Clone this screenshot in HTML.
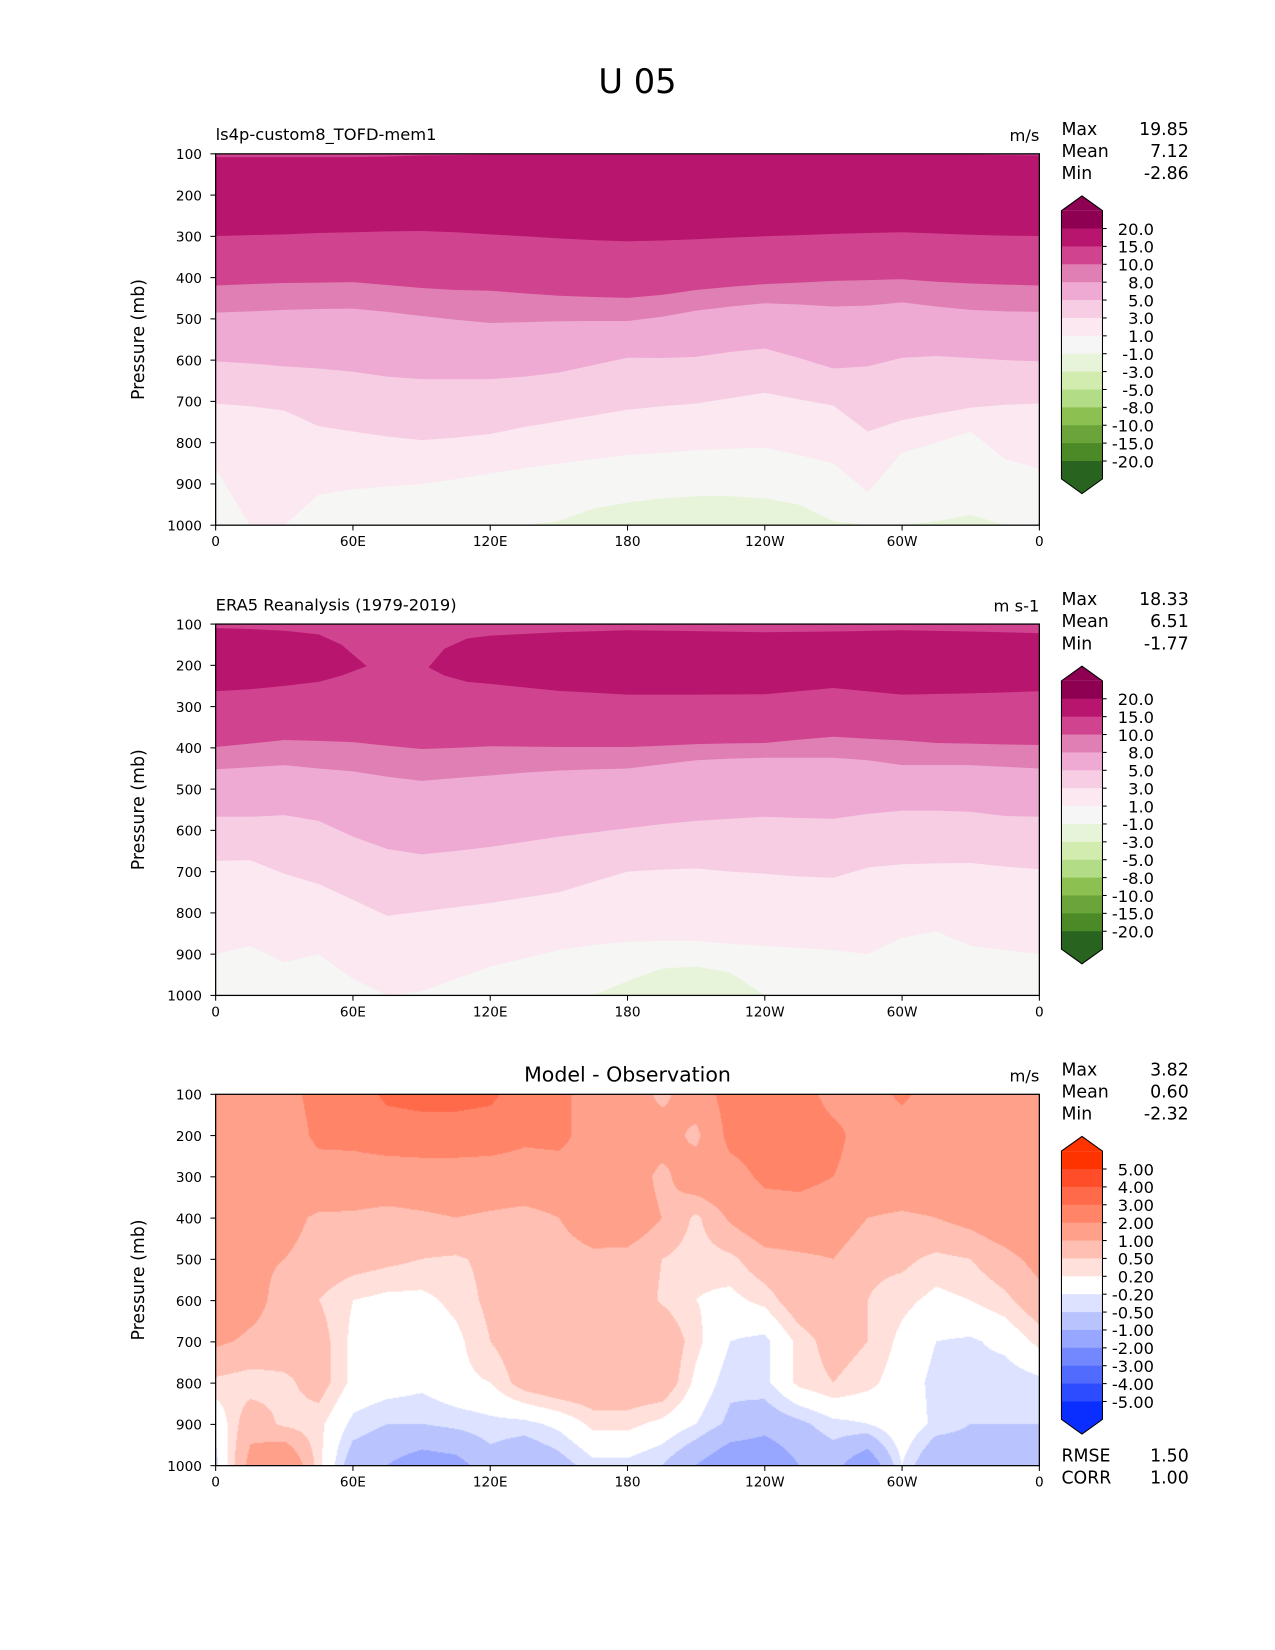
<!DOCTYPE html>
<html><head><meta charset="utf-8"><style>
html,body{margin:0;padding:0;background:#fff;}
body{width:1275px;height:1650px;position:relative;overflow:hidden;font-family:"DejaVu Sans","Liberation Sans",sans-serif;}
#diffc{position:absolute;left:215.7px;top:1094.1px;width:823.7px;height:371.4px;}
#main{position:absolute;left:0;top:0;}
text{font-family:"DejaVu Sans","Liberation Sans",sans-serif;fill:#000;}
</style></head><body>
<canvas id="diffc" width="783" height="353"></canvas>
<svg id="main" width="1275" height="1650" viewBox="0 0 1212 1568"></svg>
<script>
// ---------- data ----------
const LON = [0,15,30,45,60,75,90,105,120,135,150,165,180,195,210,225,240,255,270,285,300,315,330,345,360];
// Panel 1 (model) contour boundaries, pressure (mb)
const m1Top  = [108,108,108,108,108,107,104,103,102,102,102,102,102,102,102,102,102,102,102,102,102,102,102,103,104];
const m1B15  = [299,297,295,292,290,288,287,290,295,300,305,309,312,310,307,303,300,297,294,292,290,293,296,298,299];
const m1B10  = [419,416,413,412,411,418,425,430,432,438,444,447,449,442,430,422,416,412,408,406,404,410,414,417,419];
const m1B8   = [485,482,478,476,475,483,493,502,510,508,506,505,505,495,480,470,462,465,470,468,460,470,478,482,483];
const m1B5   = [603,608,615,620,628,640,646,646,646,640,630,612,594,595,592,580,572,595,620,615,594,590,595,600,603];
const m1B3   = [705,712,722,760,773,785,794,788,779,762,748,734,720,712,705,692,679,695,710,773,745,730,715,708,705];
const m1B1   = [863,1000,1000,926,913,906,900,888,875,862,850,840,830,825,818,815,812,830,850,920,824,800,773,840,863];
const m1Bm1  = [1000,1000,1000,1000,1000,1000,1000,1000,1000,1000,990,960,945,935,930,930,935,950,990,1000,1000,990,975,1000,1000];
// Panel 2 (ERA5)
const b2Lon  = [0,15,30,45,55,66,80,93,100,110,120,150,180,210,240,270,300,330,360];
const b2Top  = [110,112,116,125,150,202,205,205,160,135,128,120,115,117,120,118,115,118,122];
const b2Bot  = [263,258,250,240,225,202,205,205,225,240,245,262,271,271,270,255,271,268,263];
const e2B10  = [398,390,381,383,386,395,403,400,396,397,398,398,398,395,391,389,388,380,373,378,382,388,390,392,393];
const e2B8   = [452,447,442,450,457,470,480,473,467,460,455,452,450,440,430,426,424,424,424,430,442,442,442,446,450];
const e2B5   = [567,567,563,577,615,645,658,650,640,628,615,605,595,585,577,572,567,570,572,560,552,552,555,565,567];
const e2B3   = [674,672,705,730,768,807,797,786,776,763,750,725,700,695,692,700,705,712,715,690,682,680,679,688,694];
const e2B1   = [900,880,920,900,960,1000,990,960,930,910,890,878,870,868,868,875,880,885,890,900,860,845,880,890,900];
const e2Bm1  = [1000,1000,1000,1000,1000,1000,1000,1000,1000,1000,1000,1000,965,935,930,945,1000,1000,1000,1000,1000,1000,1000,1000,1000];
// Panel 3 difference grid (rows: 100..1000 mb, cols: LON)
const PRES = [100,200,300,400,500,600,700,800,900,1000];
const diffRows = [
 [1.5,1.5,1.7,2.3,2.5,3.2,3.3,3.3,3.2,2.5,2.3,1.5,1.5,0.8,1.5,2.4,2.5,2.5,1.6,1.5,2.2,1.5,1.5,1.5,1.5],
 [1.5,1.5,1.5,2.2,2.3,2.5,2.6,2.6,2.5,2.2,2.3,1.5,1.5,1.4,0.8,2.3,2.5,2.6,2.3,1.5,1.5,1.5,1.5,1.5,1.5],
 [1.5,1.5,1.5,1.6,1.5,1.5,1.5,1.5,1.5,1.5,1.5,1.5,1.5,0.8,1.5,1.6,2.2,2.3,2.0,1.5,1.5,1.5,1.5,1.5,1.5],
 [1.5,1.5,1.2,0.9,0.9,0.8,0.9,1.0,0.9,0.8,1.0,1.3,1.5,1.0,0.4,1.1,1.5,1.5,1.4,1.0,0.9,1.0,1.2,1.5,1.8],
 [1.3,1.1,1.0,0.8,0.7,0.6,0.5,0.45,0.6,0.7,0.8,0.9,0.8,0.5,0.3,0.4,0.8,0.9,1.0,0.6,0.6,0.4,0.5,0.8,1.2],
 [1.5,1.2,0.8,0.5,0.2,0.1,0.1,0.3,0.6,0.8,0.9,0.8,0.8,0.45,0.2,0.1,0.3,0.8,0.9,0.5,0.3,0.1,0.2,0.4,0.8],
 [1.1,0.9,0.8,0.7,0.1,-0.1,-0.1,0.1,0.5,0.8,0.9,0.9,0.9,0.9,0.3,-0.2,-0.3,0.3,0.7,0.5,0.1,-0.2,-0.25,-0.1,0.3],
 [0.4,0.3,0.4,0.7,0.1,0.0,-0.1,0.1,0.2,0.7,0.9,0.9,0.9,0.85,0.1,-0.4,-0.3,0.3,0.5,0.3,0.0,-0.3,-0.3,-0.4,-0.3],
 [-0.1,0.8,0.4,0.3,-0.3,-0.5,-0.5,-0.4,-0.3,-0.3,-0.1,0.3,0.3,0.1,-0.2,-0.6,-0.8,-0.6,-0.3,-0.2,0.1,-0.3,-0.5,-0.5,-0.5],
 [-0.3,1.2,1.8,0.3,-0.8,-1.0,-1.3,-1.2,-0.7,-1.0,-0.7,-0.3,-0.3,-0.5,-1.0,-1.5,-1.5,-1.0,-0.8,-1.5,-0.2,-1.0,-0.8,-0.8,-0.6]
];
const diffLevels = [-5,-4,-3,-2,-1,-0.5,-0.2,0.2,0.5,1,2,3,4,5];
const diffColors = ['#0a2eff','#2e4cff','#516bff','#7388ff','#97a6ff','#b9c4ff','#dce2ff','#ffffff','#ffe0da','#ffbfb2','#ffa08a','#ff8468','#ff6a4a','#ff4d2a','#ff3300'];
const cb1Labels = ['20.0','15.0','10.0','8.0','5.0','3.0','1.0','-1.0','-3.0','-5.0','-8.0','-10.0','-15.0','-20.0'];
const cb1Colors = ['#8e0152','#b8156e','#d0438f','#e07fb4','#eeaad3','#f7cde4','#fbe8f1','#f6f6f6','#e8f4da','#d2ecb0','#b3dc86','#8cc151','#6aa43a','#4b8a26','#286320'];
const cb3Labels = ['5.00','4.00','3.00','2.00','1.00','0.50','0.20','-0.20','-0.50','-1.00','-2.00','-3.00','-4.00','-5.00'];
const yTicks = [100,200,300,400,500,600,700,800,900,1000];
const xTickLon = [0,60,120,180,240,300,360];
const xTickLab = ['0','60E','120E','180','120W','60W','0'];

// ---------- helpers ----------
const NS='http://www.w3.org/2000/svg';
const svg=document.getElementById('main');
function mk(tag,attrs,parent){const e=document.createElementNS(NS,tag);for(const k in attrs)e.setAttribute(k,attrs[k]);(parent||svg).appendChild(e);return e;}
function txt(s,x,y,size,anchor,parent){const t=mk('text',{x:x,y:y,'font-size':size,'text-anchor':anchor||'start'},parent);t.textContent=s;return t;}
const AX0=205,AX1=988,AW=783,AH=353;
const xs=lon=>AX0+lon/360*AW;
function ysFor(top){return p=>top+(p-100)/900*AH;}
function fillBelow(g,lons,B,ys,top,color,name){
  let pts=lons.map((l,i)=>xs(l)+','+ys(B[i]).toFixed(1));
  pts.push(AX1+','+(top+AH),AX0+','+(top+AH));
  const p=mk('polygon',{points:pts.join(' '),fill:color},g);
  
  
}
function fillAbove(g,lons,B,ys,top,color,name){
  let pts=[AX0+','+top];
  lons.forEach((l,i)=>pts.push(xs(l)+','+ys(B[i]).toFixed(1)));
  pts.push(AX1+','+top);
  const p=mk('polygon',{points:pts.join(' '),fill:color},g);
  
  
}
function axes(top,title,unit,leftTitleCentered){
  const g=mk('g',{});
  
  
  const ys=ysFor(top);
  mk('rect',{x:AX0,y:top,width:AW,height:AH,fill:'none',stroke:'#000','stroke-width':1.2},g);
  yTicks.forEach(p=>{
    mk('line',{x1:AX0-5,x2:AX0,y1:ys(p),y2:ys(p),stroke:'#000'},g);
    const t=txt(String(p),AX0-13,ys(p)+5,13,'end',g);
    
    
  });
  xTickLon.forEach((l,i)=>{
    mk('line',{x1:xs(l),x2:xs(l),y1:top+AH,y2:top+AH+5,stroke:'#000'},g);
    const t=txt(xTickLab[i],xs(l),top+AH+20,13,'middle',g);
    
    
  });
  const yt=txt('Pressure (mb)',0,0,16.5,'middle',g);
  yt.setAttribute('transform','translate(137,'+(top+AH/2)+') rotate(-90)');
  
  
  const tt = leftTitleCentered ? txt(title,(AX0+AX1)/2,top-12,19.5,'middle',g) : txt(title,AX0,top-13,15.5,'start',g);
  
  
  const u=txt(unit,AX1,top-12,15.5,'end',g);
  
  
}
function stats(top,vals){
  const g=mk('g',{});
  
  
  ['Max','Mean','Min'].forEach((n,i)=>{
    txt(n,1009,top-18+i*21,16.5,'start',g);
    txt(vals[i],1130,top-18+i*21,16.5,'end',g);
  });
}
function colorbar(top,labels,colors,name){
  const g=mk('g',{});
  
  
  const x0=1009,x1=1048,xc=(x0+x1)/2,step=17,r0=top+14;
  mk('polygon',{points:x0+','+r0+' '+xc+','+top+' '+x1+','+r0,fill:colors[0]},g);
  colors.forEach((c,i)=>mk('rect',{x:x0,y:r0+i*step,width:x1-x0,height:step+0.5,fill:c},g));
  const rb=r0+colors.length*step;
  mk('polygon',{points:x0+','+rb+' '+xc+','+(rb+14)+' '+x1+','+rb,fill:colors[colors.length-1]},g);
  mk('polygon',{points:x0+','+r0+' '+xc+','+top+' '+x1+','+r0+' '+x1+','+rb+' '+xc+','+(rb+14)+' '+x0+','+rb,fill:'none',stroke:'#000','stroke-width':1},g);
  labels.forEach((s,i)=>{
    const y=r0+(i+1)*step;
    mk('line',{x1:x1,x2:x1+4,y1:y,y2:y,stroke:'#000'},g);
    const t=txt(s,1097,y+6,15.5,'end',g);
    
    
  });
}

// ---------- title ----------
const T=txt('U 05',606,88,32,'middle');



// ---------- panel 1 ----------
(function(){
  const top=146, ys=ysFor(top);
  const g=mk('g',{});
  
  
  mk('rect',{x:AX0,y:top,width:AW,height:AH,fill:'#b8156e'},g);
  fillAbove(g,LON,m1Top,ys,top,'#d0438f','band-10-15-top');
  fillBelow(g,LON,m1B15,ys,top,'#d0438f','band-10-15');
  fillBelow(g,LON,m1B10,ys,top,'#e07fb4','band-8-10');
  fillBelow(g,LON,m1B8,ys,top,'#eeaad3','band-5-8');
  fillBelow(g,LON,m1B5,ys,top,'#f7cde4','band-3-5');
  fillBelow(g,LON,m1B3,ys,top,'#fbe8f1','band-1-3');
  fillBelow(g,LON,m1B1,ys,top,'#f6f6f5','band-m1-1');
  fillBelow(g,LON,m1Bm1,ys,top,'#e8f4da','band-m3-m1');
  axes(top,'ls4p-custom8_TOFD-mem1','m/s');
  stats(top,['19.85','7.12','-2.86']);
  colorbar(186,cb1Labels,cb1Colors,'model-colorbar');
})();
// ---------- panel 2 ----------
(function(){
  const top=593, ys=ysFor(top);
  const g=mk('g',{});
  
  
  mk('rect',{x:AX0,y:top,width:AW,height:AH,fill:'#d0438f'},g);
  let pts=b2Lon.map((l,i)=>xs(l)+','+ys(b2Top[i]).toFixed(1));
  for(let i=b2Lon.length-1;i>=0;i--)pts.push(xs(b2Lon[i])+','+ys(b2Bot[i]).toFixed(1));
  const band=mk('polygon',{points:pts.join(' '),fill:'#b8156e'},g);
  
  
  fillBelow(g,LON,e2B10,ys,top,'#e07fb4','band-8-10');
  fillBelow(g,LON,e2B8,ys,top,'#eeaad3','band-5-8');
  fillBelow(g,LON,e2B5,ys,top,'#f7cde4','band-3-5');
  fillBelow(g,LON,e2B3,ys,top,'#fbe8f1','band-1-3');
  fillBelow(g,LON,e2B1,ys,top,'#f6f6f5','band-m1-1');
  fillBelow(g,LON,e2Bm1,ys,top,'#e8f4da','band-m3-m1');
  axes(top,'ERA5 Reanalysis (1979-2019)','m s-1');
  stats(top,['18.33','6.51','-1.77']);
  colorbar(633,cb1Labels,cb1Colors,'era5-colorbar');
})();
// ---------- panel 3 ----------
(function(){
  const top=1040;
  const cv=document.getElementById('diffc'),ctx=cv.getContext('2d');
  const img=ctx.createImageData(783,353);
  const cache={};
  function rgb(h){if(!cache[h])cache[h]=[parseInt(h.slice(1,3),16),parseInt(h.slice(3,5),16),parseInt(h.slice(5,7),16)];return cache[h];}
  for(let py=0;py<353;py++){
    const p=100+(py+0.5)/353*900;
    let r=Math.min(PRES.length-2,Math.floor((p-100)/100));const fy=(p-PRES[r])/100;
    for(let px=0;px<783;px++){
      const lon=(px+0.5)/783*360;
      let c=Math.min(LON.length-2,Math.floor(lon/15));const fx=(lon-LON[c])/15;
      const v=(1-fy)*((1-fx)*diffRows[r][c]+fx*diffRows[r][c+1])+fy*((1-fx)*diffRows[r+1][c]+fx*diffRows[r+1][c+1]);
      let k=0;while(k<diffLevels.length&&v>=diffLevels[k])k++;
      const col=rgb(diffColors[k]);const o=(py*783+px)*4;
      img.data[o]=col[0];img.data[o+1]=col[1];img.data[o+2]=col[2];img.data[o+3]=255;
    }
  }
  ctx.putImageData(img,0,0);
  axes(top,'Model - Observation','m/s',true);
  stats(top,['3.82','0.60','-2.32']);
  colorbar(1080,cb3Labels,diffColors.slice().reverse(),'difference-colorbar');
  const g=mk('g',{});
  
  
  txt('RMSE',1009,1389,16.5,'start',g);txt('1.50',1130,1389,16.5,'end',g);
  txt('CORR',1009,1410,16.5,'start',g);txt('1.00',1130,1410,16.5,'end',g);
})();
</script>
</body></html>
